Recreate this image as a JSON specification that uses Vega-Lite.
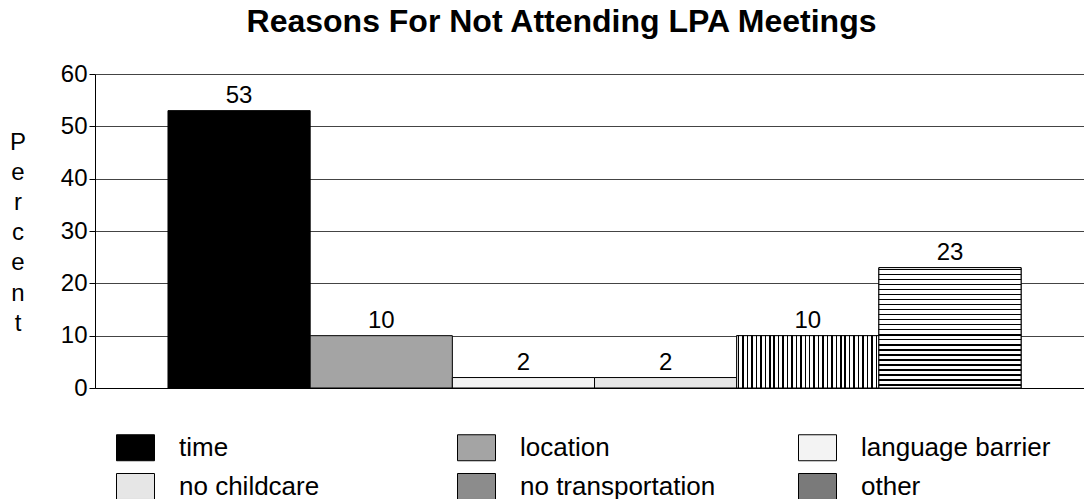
{
  "$schema": "https://vega.github.io/schema/vega-lite/v6.json",
  "width": 989,
  "height": 314,
  "autosize": {"type": "none"},
  "padding": {"left": 95, "top": 74, "right": 0, "bottom": 111},
  "background": "white",
  "config": {"view": {"stroke": null}, "font": "Liberation Sans"},
  "title": {
    "text": "Reasons For Not Attending LPA Meetings",
    "fontSize": 32,
    "fontWeight": "bold",
    "font": "Liberation Sans",
    "color": "black",
    "anchor": "middle",
    "dx": -28,
    "baseline": "alphabetic",
    "offset": -2
  },
  "data": {
    "values": [
      {"reason": "time", "percent": 53},
      {"reason": "location", "percent": 10},
      {"reason": "language barrier", "percent": 2},
      {"reason": "no childcare", "percent": 2},
      {"reason": "no transportation", "percent": 10},
      {"reason": "other", "percent": 23}
    ]
  },
  "layer": [
    {
      "mark": {"type": "bar", "stroke": "black", "strokeWidth": 1},
      "encoding": {
        "x": {
          "field": "reason", "type": "nominal", "sort": null,
          "scale": {"domain": ["time", "location", "language barrier", "no childcare", "no transportation", "other"], "paddingInner": 0, "paddingOuter": 0.478, "align": 0.537},
          "axis": {"labels": false, "ticks": false, "title": null, "domainColor": "black", "grid": false}
        },
        "y": {
          "field": "percent", "type": "quantitative",
          "scale": {"domain": [0, 60], "nice": false},
          "axis": {
            "values": [0, 10, 20, 30, 40, 50, 60],
            "grid": true, "gridColor": "#444", "gridOpacity": 1, "gridWidth": 1,
            "domainColor": "black", "tickColor": "black", "tickSize": 6,
            "labelFontSize": 24, "labelColor": "black", "labelPadding": 2, "labelFont": "Liberation Sans",
            "title": ["P", "e", "r", "c", "e", "n", "t"],
            "titleAngle": 0, "titleFontSize": 24, "titleFontWeight": "normal", "titleColor": "black",
            "titleFont": "Liberation Sans",
            "titleAlign": "center", "titleBaseline": "alphabetic",
            "titleX": -77.5, "titleY": 75, "titleLineHeight": 30.2
          }
        },
        "color": {
          "field": "reason", "type": "nominal", "sort": null,
          "scale": {
            "domain": ["time", "location", "language barrier", "no childcare", "no transportation", "other"],
            "range": ["black", "#a4a4a4", "#f3f3f3", "#e6e6e6", "#8c8c8c", "#7a7a7a"]
          },
          "legend": {
            "orient": "none", "legendX": 21, "legendY": 354,
            "direction": "horizontal", "columns": 3, "title": null,
            "symbolType": "M-1,-0.684L1,-0.684L1,0.684L-1,0.684Z", "symbolSize": 1444,
            "symbolStrokeColor": "black", "symbolStrokeWidth": 1,
            "labelFontSize": 26, "labelColor": "black", "labelFont": "Liberation Sans",
            "labelOffset": 24, "columnPadding": 80, "rowPadding": 4, "gridAlign": "all", "labelLimit": 400,
            "encode": {
              "symbols": {
                "update": {
                  "stroke": {"value": "black"}
                }
              }
            }
          }
        }
      }
    },
    {
      "transform": [{"filter": "datum.reason === 'no transportation'"}],
      "mark": {"type": "bar", "stroke": "black", "strokeWidth": 1, "fill": {"gradient": "linear", "x1": 0, "y1": 0, "x2": 1, "y2": 0, "stops": [
        {"offset": 0.008, "color": "white"}, {"offset": 0.008, "color": "black"}, {"offset": 0.019, "color": "black"}, {"offset": 0.019, "color": "white"},
        {"offset": 0.039, "color": "white"}, {"offset": 0.039, "color": "black"}, {"offset": 0.050, "color": "black"}, {"offset": 0.050, "color": "white"},
        {"offset": 0.071, "color": "white"}, {"offset": 0.071, "color": "black"}, {"offset": 0.082, "color": "black"}, {"offset": 0.082, "color": "white"},
        {"offset": 0.102, "color": "white"}, {"offset": 0.102, "color": "black"}, {"offset": 0.113, "color": "black"}, {"offset": 0.113, "color": "white"},
        {"offset": 0.133, "color": "white"}, {"offset": 0.133, "color": "black"}, {"offset": 0.144, "color": "black"}, {"offset": 0.144, "color": "white"},
        {"offset": 0.164, "color": "white"}, {"offset": 0.164, "color": "black"}, {"offset": 0.175, "color": "black"}, {"offset": 0.175, "color": "white"},
        {"offset": 0.196, "color": "white"}, {"offset": 0.196, "color": "black"}, {"offset": 0.207, "color": "black"}, {"offset": 0.207, "color": "white"},
        {"offset": 0.227, "color": "white"}, {"offset": 0.227, "color": "black"}, {"offset": 0.238, "color": "black"}, {"offset": 0.238, "color": "white"},
        {"offset": 0.258, "color": "white"}, {"offset": 0.258, "color": "black"}, {"offset": 0.269, "color": "black"}, {"offset": 0.269, "color": "white"},
        {"offset": 0.289, "color": "white"}, {"offset": 0.289, "color": "black"}, {"offset": 0.300, "color": "black"}, {"offset": 0.300, "color": "white"},
        {"offset": 0.321, "color": "white"}, {"offset": 0.321, "color": "black"}, {"offset": 0.332, "color": "black"}, {"offset": 0.332, "color": "white"},
        {"offset": 0.352, "color": "white"}, {"offset": 0.352, "color": "black"}, {"offset": 0.363, "color": "black"}, {"offset": 0.363, "color": "white"},
        {"offset": 0.383, "color": "white"}, {"offset": 0.383, "color": "black"}, {"offset": 0.394, "color": "black"}, {"offset": 0.394, "color": "white"},
        {"offset": 0.414, "color": "white"}, {"offset": 0.414, "color": "black"}, {"offset": 0.425, "color": "black"}, {"offset": 0.425, "color": "white"},
        {"offset": 0.446, "color": "white"}, {"offset": 0.446, "color": "black"}, {"offset": 0.457, "color": "black"}, {"offset": 0.457, "color": "white"},
        {"offset": 0.477, "color": "white"}, {"offset": 0.477, "color": "black"}, {"offset": 0.488, "color": "black"}, {"offset": 0.488, "color": "white"},
        {"offset": 0.508, "color": "white"}, {"offset": 0.508, "color": "black"}, {"offset": 0.519, "color": "black"}, {"offset": 0.519, "color": "white"},
        {"offset": 0.539, "color": "white"}, {"offset": 0.539, "color": "black"}, {"offset": 0.550, "color": "black"}, {"offset": 0.550, "color": "white"},
        {"offset": 0.571, "color": "white"}, {"offset": 0.571, "color": "black"}, {"offset": 0.582, "color": "black"}, {"offset": 0.582, "color": "white"},
        {"offset": 0.602, "color": "white"}, {"offset": 0.602, "color": "black"}, {"offset": 0.613, "color": "black"}, {"offset": 0.613, "color": "white"},
        {"offset": 0.633, "color": "white"}, {"offset": 0.633, "color": "black"}, {"offset": 0.644, "color": "black"}, {"offset": 0.644, "color": "white"},
        {"offset": 0.664, "color": "white"}, {"offset": 0.664, "color": "black"}, {"offset": 0.675, "color": "black"}, {"offset": 0.675, "color": "white"},
        {"offset": 0.696, "color": "white"}, {"offset": 0.696, "color": "black"}, {"offset": 0.707, "color": "black"}, {"offset": 0.707, "color": "white"},
        {"offset": 0.727, "color": "white"}, {"offset": 0.727, "color": "black"}, {"offset": 0.738, "color": "black"}, {"offset": 0.738, "color": "white"},
        {"offset": 0.758, "color": "white"}, {"offset": 0.758, "color": "black"}, {"offset": 0.769, "color": "black"}, {"offset": 0.769, "color": "white"},
        {"offset": 0.789, "color": "white"}, {"offset": 0.789, "color": "black"}, {"offset": 0.800, "color": "black"}, {"offset": 0.800, "color": "white"},
        {"offset": 0.821, "color": "white"}, {"offset": 0.821, "color": "black"}, {"offset": 0.832, "color": "black"}, {"offset": 0.832, "color": "white"},
        {"offset": 0.852, "color": "white"}, {"offset": 0.852, "color": "black"}, {"offset": 0.863, "color": "black"}, {"offset": 0.863, "color": "white"},
        {"offset": 0.883, "color": "white"}, {"offset": 0.883, "color": "black"}, {"offset": 0.894, "color": "black"}, {"offset": 0.894, "color": "white"},
        {"offset": 0.914, "color": "white"}, {"offset": 0.914, "color": "black"}, {"offset": 0.925, "color": "black"}, {"offset": 0.925, "color": "white"},
        {"offset": 0.946, "color": "white"}, {"offset": 0.946, "color": "black"}, {"offset": 0.957, "color": "black"}, {"offset": 0.957, "color": "white"},
        {"offset": 0.977, "color": "white"}, {"offset": 0.977, "color": "black"}, {"offset": 0.988, "color": "black"}, {"offset": 0.988, "color": "white"}
      ]}},
      "encoding": {
        "x": {"field": "reason", "type": "nominal", "sort": null},
        "y": {"field": "percent", "type": "quantitative"}
      }
    },
    {
      "transform": [{"filter": "datum.reason === 'other'"}],
      "mark": {"type": "bar", "stroke": "black", "strokeWidth": 1, "fill": {"gradient": "linear", "x1": 0, "y1": 0, "x2": 0, "y2": 1, "stops": [
        {"offset": 0.010, "color": "white"}, {"offset": 0.010, "color": "black"}, {"offset": 0.022, "color": "black"}, {"offset": 0.022, "color": "white"},
        {"offset": 0.052, "color": "white"}, {"offset": 0.052, "color": "black"}, {"offset": 0.064, "color": "black"}, {"offset": 0.064, "color": "white"},
        {"offset": 0.093, "color": "white"}, {"offset": 0.093, "color": "black"}, {"offset": 0.105, "color": "black"}, {"offset": 0.105, "color": "white"},
        {"offset": 0.135, "color": "white"}, {"offset": 0.135, "color": "black"}, {"offset": 0.147, "color": "black"}, {"offset": 0.147, "color": "white"},
        {"offset": 0.177, "color": "white"}, {"offset": 0.177, "color": "black"}, {"offset": 0.189, "color": "black"}, {"offset": 0.189, "color": "white"},
        {"offset": 0.218, "color": "white"}, {"offset": 0.218, "color": "black"}, {"offset": 0.230, "color": "black"}, {"offset": 0.230, "color": "white"},
        {"offset": 0.260, "color": "white"}, {"offset": 0.260, "color": "black"}, {"offset": 0.272, "color": "black"}, {"offset": 0.272, "color": "white"},
        {"offset": 0.302, "color": "white"}, {"offset": 0.302, "color": "black"}, {"offset": 0.314, "color": "black"}, {"offset": 0.314, "color": "white"},
        {"offset": 0.343, "color": "white"}, {"offset": 0.343, "color": "black"}, {"offset": 0.355, "color": "black"}, {"offset": 0.355, "color": "white"},
        {"offset": 0.385, "color": "white"}, {"offset": 0.385, "color": "black"}, {"offset": 0.397, "color": "black"}, {"offset": 0.397, "color": "white"},
        {"offset": 0.427, "color": "white"}, {"offset": 0.427, "color": "black"}, {"offset": 0.439, "color": "black"}, {"offset": 0.439, "color": "white"},
        {"offset": 0.468, "color": "white"}, {"offset": 0.468, "color": "black"}, {"offset": 0.480, "color": "black"}, {"offset": 0.480, "color": "white"},
        {"offset": 0.510, "color": "white"}, {"offset": 0.510, "color": "black"}, {"offset": 0.522, "color": "black"}, {"offset": 0.522, "color": "white"},
        {"offset": 0.552, "color": "white"}, {"offset": 0.552, "color": "black"}, {"offset": 0.564, "color": "black"}, {"offset": 0.564, "color": "white"},
        {"offset": 0.593, "color": "white"}, {"offset": 0.593, "color": "black"}, {"offset": 0.605, "color": "black"}, {"offset": 0.605, "color": "white"},
        {"offset": 0.635, "color": "white"}, {"offset": 0.635, "color": "black"}, {"offset": 0.647, "color": "black"}, {"offset": 0.647, "color": "white"},
        {"offset": 0.677, "color": "white"}, {"offset": 0.677, "color": "black"}, {"offset": 0.689, "color": "black"}, {"offset": 0.689, "color": "white"},
        {"offset": 0.718, "color": "white"}, {"offset": 0.718, "color": "black"}, {"offset": 0.730, "color": "black"}, {"offset": 0.730, "color": "white"},
        {"offset": 0.760, "color": "white"}, {"offset": 0.760, "color": "black"}, {"offset": 0.772, "color": "black"}, {"offset": 0.772, "color": "white"},
        {"offset": 0.802, "color": "white"}, {"offset": 0.802, "color": "black"}, {"offset": 0.814, "color": "black"}, {"offset": 0.814, "color": "white"},
        {"offset": 0.843, "color": "white"}, {"offset": 0.843, "color": "black"}, {"offset": 0.855, "color": "black"}, {"offset": 0.855, "color": "white"},
        {"offset": 0.885, "color": "white"}, {"offset": 0.885, "color": "black"}, {"offset": 0.897, "color": "black"}, {"offset": 0.897, "color": "white"},
        {"offset": 0.927, "color": "white"}, {"offset": 0.927, "color": "black"}, {"offset": 0.939, "color": "black"}, {"offset": 0.939, "color": "white"},
        {"offset": 0.968, "color": "white"}, {"offset": 0.968, "color": "black"}, {"offset": 0.980, "color": "black"}, {"offset": 0.980, "color": "white"}
      ]}},
      "encoding": {
        "x": {"field": "reason", "type": "nominal", "sort": null},
        "y": {"field": "percent", "type": "quantitative"}
      }
    },
    {
      "mark": {"type": "text", "fontSize": 24, "dy": -7.5, "baseline": "alphabetic", "color": "black", "font": "Liberation Sans"},
      "encoding": {
        "x": {"field": "reason", "type": "nominal", "sort": null},
        "y": {"field": "percent", "type": "quantitative"},
        "text": {"field": "percent", "type": "quantitative"}
      }
    }
  ]
}
